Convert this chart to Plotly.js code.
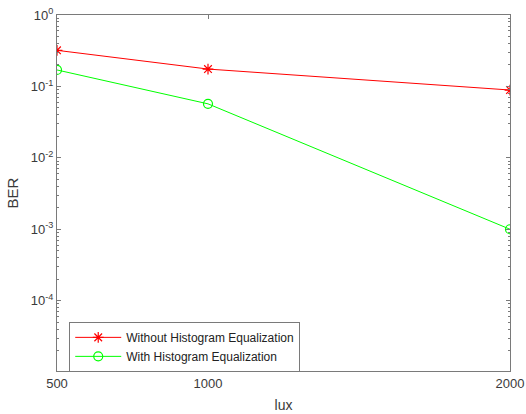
<!DOCTYPE html>
<html>
<head>
<meta charset="utf-8">
<script src="https://cdn.plot.ly/plotly-3.0.1.min.js"></script>
<style>html,body{margin:0;padding:0;background:#fff;}#chart{width:526px;height:414px;}</style>
</head>
<body>
<div id="chart"></div>
<script>
var lux = [500, 1000, 2000];
var berWithout = [0.32, 0.175, 0.089];
var berWith = [0.17, 0.057, 0.001];
var xTicks = [500, 1000, 2000];
var xTickText = ['500', '1000', '2000'];
var yTicks = [1, 0.1, 0.01, 0.001, 0.0001];
var yTickText = ['10<sup>0</sup>', '10<sup>-1</sup>', '10<sup>-2</sup>', '10<sup>-3</sup>', '10<sup>-4</sup>'];
var seriesNames = ['Without Histogram Equalization', 'With Histogram Equalization'];

var axisColor = '#7a7a7a';
var textColor = '#3a3a3a';
var traces = [
  {x: lux, y: berWithout, name: seriesNames[0], mode: 'lines+markers', type: 'scatter',
   line: {color: '#ff0000', width: 1}, marker: {symbol: 'asterisk-open', size: 9, color: '#ff0000', line: {color: '#ff0000', width: 1.2}}},
  {x: lux, y: berWith, name: seriesNames[1], mode: 'lines+markers', type: 'scatter',
   line: {color: '#00ff00', width: 1}, marker: {symbol: 'circle-open', size: 9, color: '#00ff00', line: {color: '#00ff00', width: 1.2}}}
];
var layout = {
  width: 526, height: 414,
  margin: {l: 57, r: 16, t: 15, b: 43},
  paper_bgcolor: '#ffffff', plot_bgcolor: '#ffffff',
  font: {family: 'Liberation Sans, Arial, sans-serif', size: 13, color: textColor},
  showlegend: true,
  legend: {x: 0.027, y: 0.138, xanchor: 'left', yanchor: 'top', bordercolor: axisColor, borderwidth: 1,
    bgcolor: '#ffffff', font: {size: 12, color: '#222222'}, tracegroupgap: 0, itemwidth: 46},
  xaxis: {range: [500, 2000], tickvals: xTicks, ticktext: xTickText, ticks: 'inside', ticklen: 4,
    tickcolor: axisColor, showline: true, linecolor: axisColor, linewidth: 1, mirror: 'ticks',
    showgrid: false, zeroline: false, tickfont: {size: 13, color: textColor},
    title: {text: 'lux', font: {size: 14, color: textColor}, standoff: 10}},
  yaxis: {type: 'log', range: [-4.985, 0], tickvals: yTicks, ticktext: yTickText, ticks: 'inside', ticklen: 4,
    tickcolor: axisColor, showline: true, linecolor: axisColor, linewidth: 1, mirror: 'ticks',
    showgrid: false, zeroline: false, tickfont: {size: 13, color: textColor},
    minor: {ticks: 'inside', ticklen: 2, tickcolor: axisColor, dtick: 'D1', showgrid: false},
    title: {text: 'BER', font: {size: 15, color: textColor}, standoff: 8}}
};
Plotly.newPlot('chart', traces, layout, {displayModeBar: false, staticPlot: true});
</script>
</body>
</html>
